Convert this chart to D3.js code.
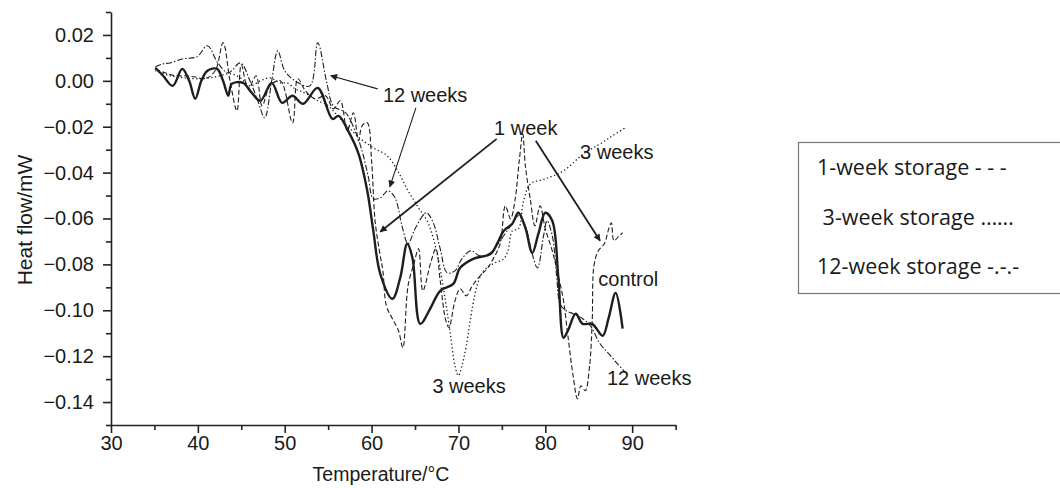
<!DOCTYPE html>
<html>
<head>
<meta charset="utf-8">
<script src="https://cdn.jsdelivr.net/npm/d3@7"></script>
<style>
  body { margin: 0; background: #fff; }
  text { font-family: "Liberation Sans", Arial, sans-serif; fill: #1a1a1a; }
  .legend text { font-family: "Open Sans", "Noto Sans", sans-serif; }
</style>
</head>
<body>
<svg id="viz"></svg>
<script>
const width = 1060, height = 488;

// heat flow (mW) against temperature (°C)
const control = [[35.1,0.0057],[36.0,0.0022],[37.1,-0.0022],[38.2,0.0052],[39.0,0],[39.7,-0.0078],[40.4,0],[41.1,0.0044],[42.2,0.0052],[42.9,0],[43.5,-0.0065],[43.9,-0.0013],[45.2,-0.0009],[46.2,-0.0052],[47.2,-0.0087],[48.5,-0.0009],[49.7,-0.0096],[50.9,-0.0065],[52.1,-0.0100],[53.8,-0.0031],[55.5,-0.0166],[56.2,-0.0153],[57.3,-0.0218],[58.5,-0.0318],[59.5,-0.0479],[60.2,-0.0654],[61.0,-0.0841],[62.4,-0.0950],[63.3,-0.0858],[64.1,-0.0710],[64.7,-0.0771],[65.6,-0.1059],[66.8,-0.0989],[67.9,-0.0915],[69.4,-0.0885],[70.2,-0.0815],[71.7,-0.0776],[73.7,-0.0754],[74.5,-0.0706],[75.2,-0.0654],[76.2,-0.0623],[76.9,-0.0575],[77.7,-0.0640],[78.5,-0.0750],[79.2,-0.0667],[80.0,-0.0575],[80.8,-0.0610],[81.5,-0.0858],[82.1,-0.1120],[82.6,-0.1089],[83.5,-0.1015],[84.3,-0.1059],[85.4,-0.1059],[86.6,-0.1111],[87.3,-0.1032],[88.1,-0.0924],[88.9,-0.1080]];

const week1 = [[35.1,0.0052],[36.2,0.0035],[37.4,0.0022],[38.5,0.0022],[39.7,0.0017],[40.8,0.0009],[42.0,0.0044],[42.9,0.0166],[43.7,0],[44.5,-0.0131],[45.0,0.0070],[45.8,-0.0035],[46.7,0.0022],[47.4,-0.0109],[48.3,-0.0022],[49.5,0],[50.9,-0.0183],[51.5,0.0009],[52.4,-0.0044],[53.5,-0.0078],[54.7,-0.0065],[55.6,-0.0122],[56.4,-0.0087],[57.2,-0.0218],[57.9,-0.0139],[58.5,-0.0261],[58.9,-0.0196],[59.5,-0.0183],[60.0,-0.0349],[60.4,-0.0610],[60.9,-0.0741],[61.3,-0.0828],[61.7,-0.0980],[62.4,-0.1037],[63.1,-0.1089],[63.6,-0.1163],[64.2,-0.0893],[64.9,-0.0793],[65.4,-0.0732],[65.9,-0.0915],[66.8,-0.0793],[67.4,-0.0732],[67.9,-0.0871],[68.5,-0.1037],[68.9,-0.1076],[69.6,-0.0959],[70.2,-0.0906],[70.9,-0.0937],[71.6,-0.0893],[72.5,-0.0850],[73.3,-0.0819],[74.0,-0.0776],[74.8,-0.0710],[75.4,-0.0545],[76.0,-0.0601],[76.5,-0.0523],[77.0,-0.0349],[77.4,-0.0231],[77.7,-0.0370],[78.3,-0.0523],[78.8,-0.0632],[79.4,-0.0545],[80.0,-0.0645],[80.8,-0.0741],[81.5,-0.0850],[82.1,-0.0959],[82.6,-0.1111],[83.2,-0.1285],[83.7,-0.1386],[84.1,-0.1329],[84.6,-0.1351],[85.1,-0.1242],[85.4,-0.1046],[85.6,-0.0806],[86.1,-0.0741],[86.8,-0.0710],[87.3,-0.0645],[87.6,-0.0619],[87.9,-0.0697],[88.4,-0.0680],[88.9,-0.0662]];

const week3 = [[35.1,0.0044],[36.8,0.0022],[38.5,0.0013],[40.3,0.0009],[42.0,0.0017],[43.7,0.0031],[44.9,0.0013],[46.0,-0.0022],[47.2,0],[48.3,0.0013],[49.5,-0.0009],[50.3,-0.0009],[51.2,-0.0035],[51.8,-0.0044],[52.9,-0.0065],[53.8,-0.0087],[54.7,-0.0100],[55.6,-0.0131],[56.4,-0.0166],[57.2,-0.0196],[58.1,-0.0231],[59.0,-0.0261],[60.4,-0.0296],[61.8,-0.0327],[63.0,-0.0392],[64.2,-0.0479],[65.4,-0.0553],[66.5,-0.0619],[67.6,-0.0763],[68.5,-0.0959],[69.1,-0.1111],[69.6,-0.1242],[70.0,-0.1285],[70.4,-0.1242],[70.9,-0.1155],[71.6,-0.0989],[72.2,-0.0885],[72.9,-0.0828],[74.0,-0.0797],[75.2,-0.0776],[75.7,-0.0741],[76.2,-0.0654],[76.9,-0.0645],[77.5,-0.0523],[78.3,-0.0449],[80.0,-0.0427],[82.1,-0.0392],[84.4,-0.0318],[86.3,-0.0275],[87.7,-0.0240],[89.2,-0.0205]];

const week12 = [[35.1,0.0061],[36.0,0.0074],[36.8,0.0078],[38.3,0.0096],[39.9,0.0105],[41.1,0.0153],[42.3,0.0078],[43.5,0.0035],[44.9,0.0078],[46.0,0],[46.9,-0.0087],[47.7,-0.0161],[48.5,0],[49.2,0.0131],[50.0,0.0044],[51.2,0],[52.9,-0.0022],[53.8,0.0166],[54.8,0],[55.6,-0.0109],[57.0,-0.0139],[58.1,-0.0218],[58.9,-0.0305],[59.6,-0.0414],[60.2,-0.0514],[61.0,-0.0510],[61.9,-0.0479],[62.7,-0.0510],[63.5,-0.0632],[64.2,-0.0710],[65.0,-0.0645],[66.3,-0.0575],[67.1,-0.0619],[67.9,-0.0732],[68.7,-0.0837],[69.6,-0.0828],[70.4,-0.0776],[71.4,-0.0741],[72.5,-0.0763],[73.7,-0.0749],[74.8,-0.0697],[76.0,-0.0632],[76.9,-0.0588],[77.7,-0.0632],[78.4,-0.0741],[79.1,-0.0815],[79.8,-0.0675],[80.2,-0.0610],[80.8,-0.0675],[81.3,-0.0850],[81.7,-0.0972],[82.4,-0.1002],[83.2,-0.1015],[84.3,-0.1037],[85.2,-0.1068],[86.3,-0.1146],[87.5,-0.1198],[88.3,-0.1233],[89.4,-0.1277]];

const xTicks = [30, 40, 50, 60, 70, 80, 90];
const xMinor = [35, 45, 55, 65, 75, 85, 95];
const yTicks = [0.02, 0.00, -0.02, -0.04, -0.06, -0.08, -0.10, -0.12, -0.14];
const yMinor = [0.03, 0.01, -0.01, -0.03, -0.05, -0.07, -0.09, -0.11, -0.13, -0.15];

// in-plot labels: [text, T, heat flow]
const labels = [["12 weeks", 61.3, -0.0092], ["1 week", 74.1, -0.0235], ["3 weeks", 84.0, -0.0340],
                ["control", 86.1, -0.0893], ["3 weeks", 67.0, -0.1360], ["12 weeks", 87.1, -0.1325]];
// arrows: [from T, from v, to T, to v, heavy]
const arrows = [[60.7, -0.0035, 55.3, 0.0022, false], [65.1, -0.0118, 62.1, -0.0462, false],
                [74.4, -0.0253, 61.0, -0.0658, true], [78.9, -0.0261, 86.3, -0.0697, true]];
const legendItems = ["1-week storage - - -", " 3-week storage \u2026\u2026", "12-week storage -.-.-"];

const svg = d3.select("#viz").attr("width", width).attr("height", height);

const x = d3.scaleLinear().domain([30, 95]).range([111, 675.6]);
const y = d3.scaleLinear().domain([-0.15, 0.03]).range([425, 12]);

const fmt = d3.format(".2f");

// minor ticks
svg.append("g").attr("transform", "translate(0,425)")
  .call(d3.axisBottom(x).tickValues(xMinor).tickSize(5).tickFormat(""))
  .call(g => g.select(".domain").remove());
svg.append("g").attr("transform", "translate(111,0)")
  .call(d3.axisLeft(y).tickValues(yMinor).tickSize(5).tickFormat(""))
  .call(g => g.select(".domain").remove());

svg.append("g").attr("transform", "translate(0,425)")
  .call(d3.axisBottom(x).tickValues(xTicks).tickSize(8).tickSizeOuter(0).tickPadding(3));
svg.append("g").attr("transform", "translate(111,0)")
  .call(d3.axisLeft(y).tickValues(yTicks).tickSize(8).tickSizeOuter(0).tickPadding(9)
    .tickFormat(d => fmt(Math.abs(d) < 1e-9 ? 0 : d)));

svg.selectAll(".tick line").attr("stroke", "#222").attr("stroke-width", 1.6);
svg.selectAll(".domain").attr("stroke", "#222").attr("stroke-width", 1.6);
svg.selectAll(".tick text").style("font-size", "20px").attr("fill", "#1a1a1a");

svg.append("text").attr("x", 381).attr("y", 481).attr("text-anchor", "middle")
  .style("font-size", "19.5px").text("Temperature/\u00b0C");
svg.append("text").attr("transform", "translate(32,220) rotate(-90)").attr("text-anchor", "middle")
  .style("font-size", "21px").text("Heat flow/mW");

const line = d3.line().x(d => x(d[0])).y(d => y(d[1])).curve(d3.curveCatmullRom.alpha(0.5));

const series = [
  { data: week3, dash: "1.3,2.5", w: 1.3 },
  { data: week12, dash: "6,2,1.5,2", w: 1.1 },
  { data: week1, dash: "5,2.5", w: 1.1 },
  { data: control, dash: null, w: 2.4 }
];

svg.append("g").selectAll("path")
  .data(series)
  .enter().append("path")
  .attr("d", d => line(d.data))
  .attr("fill", "none")
  .attr("stroke", "#1e1e1e")
  .attr("stroke-width", d => d.w)
  .attr("stroke-dasharray", d => d.dash)
  .attr("stroke-linejoin", "round");

// arrows
const defs = svg.append("defs");
defs.append("marker").attr("id", "head").attr("viewBox", "0 0 10 10")
  .attr("refX", 9).attr("refY", 5).attr("markerWidth", 9).attr("markerHeight", 7)
  .attr("markerUnits", "userSpaceOnUse").attr("orient", "auto")
  .append("path").attr("d", "M0,0L10,5L0,10z").attr("fill", "#1e1e1e");

svg.append("g").selectAll("line")
  .data(arrows)
  .enter().append("line")
  .attr("x1", d => x(d[0])).attr("y1", d => y(d[1]))
  .attr("x2", d => x(d[2])).attr("y2", d => y(d[3]))
  .attr("stroke", "#1e1e1e")
  .attr("stroke-width", d => d[4] ? 1.8 : 1.1)
  .attr("marker-end", "url(#head)");

svg.append("g").selectAll("text")
  .data(labels)
  .enter().append("text")
  .attr("x", d => x(d[1])).attr("y", d => y(d[2]))
  .style("font-size", "20px")
  .text(d => d[0]);

// legend box
const legend = svg.append("g").attr("class", "legend");
legend.append("rect").attr("x", 798.5).attr("y", 142.5).attr("width", 270).attr("height", 151)
  .attr("fill", "#fff").attr("stroke", "#777").attr("stroke-width", 1.2);
legend.selectAll("text")
  .data(legendItems)
  .enter().append("text")
  .attr("x", 817).attr("y", (d, i) => 175 + i * 49.5)
  .style("font-size", "21.5px")
  .attr("xml:space", "preserve")
  .text(d => d);
</script>
</body>
</html>
